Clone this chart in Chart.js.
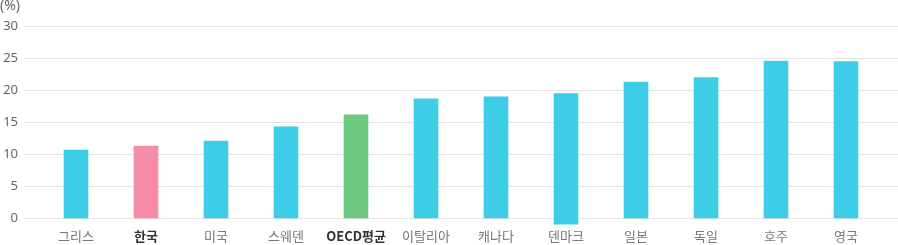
<!DOCTYPE html>
<html>
<head>
<meta charset="utf-8">
<script src="https://cdn.jsdelivr.net/npm/chart.js@4/dist/chart.umd.min.js"></script>
<style>
  html, body { margin: 0; padding: 0; background: #fff; }
  #wrap { width: 898px; height: 245px; position: relative; }
</style>
</head>
<body>
<div id="wrap"><canvas id="chart"></canvas></div>
<script>
var countries = ['그리스', '한국', '미국', '스웨덴', 'OECD평균', '이탈리아', '캐나다', '덴마크', '일본', '독일', '호주', '영국'];
var values = [10.7, 11.3, 12.1, 14.3, 16.2, 18.7, 19.0, 19.5, 21.3, 22.0, 24.6, 24.5];
// bar bases (the Denmark bar dips a little under the zero line in the original)
var bases = [0, 0, 0, 0, 0, 0, 0, -0.9, 0, 0, 0, 0];
var highlight = ['한국', 'OECD평균'];
var yTicks = [0, 5, 10, 15, 20, 25, 30];

var barColors = countries.map(function(c) {
  if (c === '한국') return '#f78ca8';
  if (c === 'OECD평균') return '#6cca80';
  return '#3dcde6';
});

window.onload = function() {
  var ctx = document.getElementById('chart').getContext('2d');
  var config = {
    type: 'bar',
    data: {
      labels: countries,
      datasets: [{
        data: values.map(function(v, i) { return [bases[i], v]; }),
        backgroundColor: barColors,
        barThickness: 24,
        borderWidth: 0,
        clip: false
      }]
    },
    options: {
      responsive: true,
      maintainAspectRatio: false,
      animation: false,
      layout: { padding: 0 },
      plugins: {
        legend: { display: false },
        tooltip: { enabled: false },
        title: {
          display: true,
          text: '(%)',
          align: 'start',
          color: '#666',
          font: { family: "'Noto Sans', 'Noto Sans CJK KR'", size: 14, weight: 'normal', lineHeight: 0.8 },
          padding: { top: 0, bottom: 15.2 }
        }
      },
      scales: {
        x: {
          grid: { display: false, drawTicks: false },
          border: { display: false },
          afterFit: function(s) { s.height = 26.5; },
          ticks: {
            padding: 10,
            color: function(c) { return highlight.indexOf(countries[c.index]) >= 0 ? '#333' : '#777'; },
            font: function(c) {
              return {
                family: "'Noto Sans CJK KR', 'Noto Sans'",
                size: 13,
                weight: highlight.indexOf(countries[c.index]) >= 0 ? 'bold' : 'normal'
              };
            }
          }
        },
        y: {
          min: 0,
          max: 30,
          afterBuildTicks: function(s) { s.ticks = yTicks.map(function(v) { return { value: v }; }); },
          afterFit: function(s) { s.width = 41; },
          grid: { color: '#e3e3e3', lineWidth: 1, tickLength: 17 },
          border: { display: false },
          ticks: {
            padding: 6,
            color: '#666',
            font: { family: "'Noto Sans', 'Noto Sans CJK KR'", size: 13 }
          }
        },
        yRight: {
          position: 'right',
          min: 0,
          max: 30,
          afterBuildTicks: function(s) { s.ticks = yTicks.map(function(v) { return { value: v }; }); },
          afterFit: function(s) { s.width = 17; },
          grid: { color: '#e3e3e3', lineWidth: 1, tickLength: 17, drawOnChartArea: false },
          border: { display: false },
          ticks: { display: false }
        }
      }
    }
  };
  var myChart = new Chart(ctx, config);
};
</script>
</body>
</html>
